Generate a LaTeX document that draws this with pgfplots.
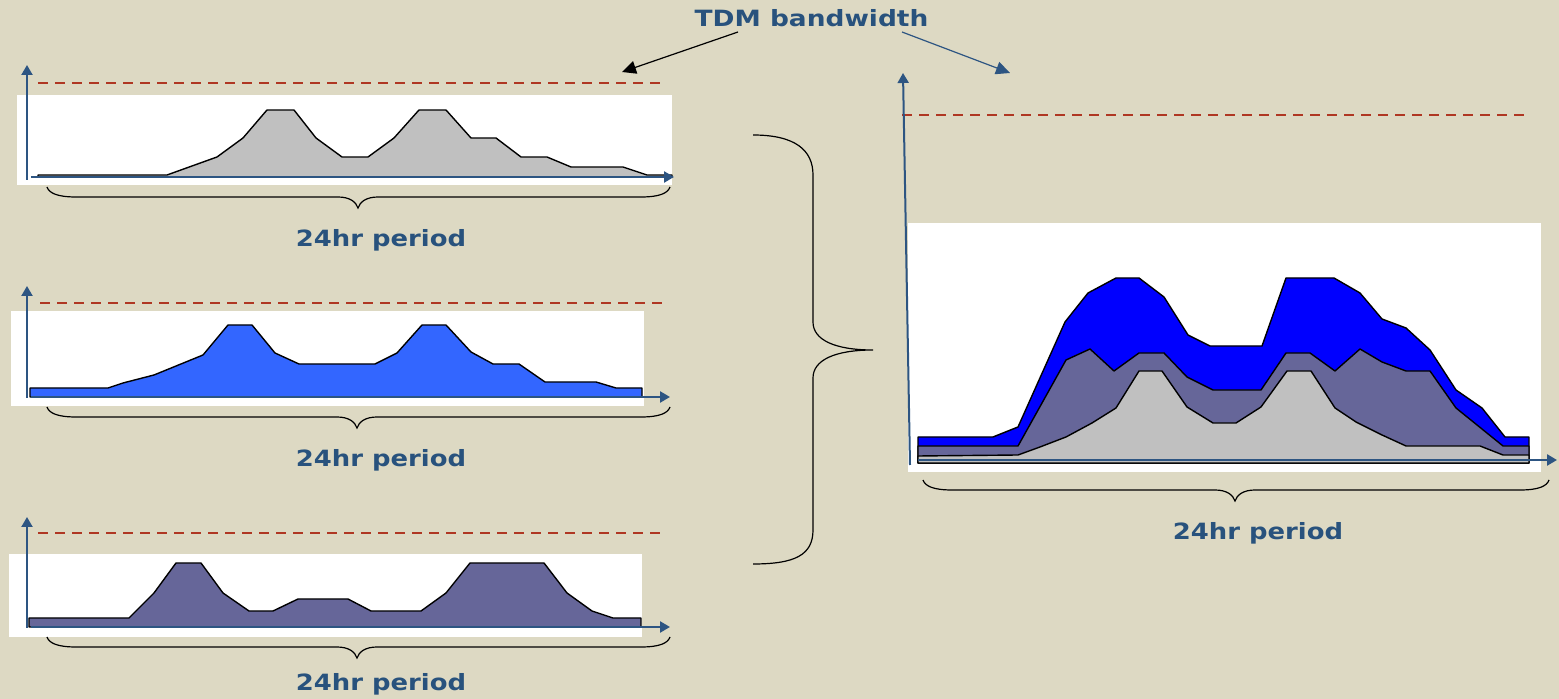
\documentclass[border=0pt]{standalone}
\usepackage{pgfplots}
\pgfplotsset{compat=1.18}
\usepackage{graphicx}
\usepackage{fontspec}
\setmainfont{DejaVu Sans}
\usetikzlibrary{arrows.meta}
\definecolor{bg}{RGB}{221,217,195}
\definecolor{txt}{RGB}{40,82,125}
\definecolor{axblue}{RGB}{45,85,130}
\definecolor{dashred}{RGB}{175,55,35}
\definecolor{greyA}{RGB}{192,192,192}
\definecolor{blueB}{RGB}{51,102,255}
\definecolor{purpleC}{RGB}{102,102,153}
\definecolor{blueD}{RGB}{0,0,255}
\pgfplotsset{mini/.style={scale only axis, hide axis, clip=false, anchor=south west}}
\tikzset{
 axarrow/.style={draw=axblue, line width=1.3pt, -{Triangle[length=5pt,width=5.5pt]}},
 bw/.style={draw=dashred, line width=0.9pt, dash pattern=on 5pt off 3.5pt},
 ar/.style={draw=black, line width=0.7pt, line join=round},
 lbl/.style={font=\fontsize{11.2pt}{13pt}\selectfont\bfseries, text=txt, anchor=base, inner sep=0pt},
}
\newcommand{\smallbrace}[4]{%
 \draw[black, line width=0.6pt] (#1,#3) .. controls ({#1+2},{#3+6}) and ({#1+10},{#3+10}) .. ({#1+29},{#3+10}) -- ({#4-20},{#3+10}) .. controls ({#4-8},{#3+10}) and ({#4-2},{#3+15}) .. (#4,{#3+21}) .. controls ({#4+2},{#3+15}) and ({#4+8},{#3+10}) .. ({#4+20},{#3+10}) -- ({#2-29},{#3+10}) .. controls ({#2-10},{#3+10}) and ({#2-2},{#3+6}) .. (#2,#3);}
\begin{document}
\begin{tikzpicture}
\begin{scope}[x=0.5pt,y=-0.5pt]
 \fill[bg] (0,0) rectangle (1559,699);
 \fill[white] (17,95) rectangle (672,185);
 \fill[white] (11,311) rectangle (644,406);
 \fill[white] (9,554) rectangle (642,637);
 \fill[white] (908,223) rectangle (1541,472);
 \coordinate (c1) at (17,185);
 \coordinate (c2) at (11,406);
 \coordinate (c3) at (9,637);
 \coordinate (c4) at (908,472);
\end{scope}

% chart 1
\begin{axis}[mini, at={(c1)}, xmin=17, xmax=672, ymin=-8, ymax=82, width=327.5pt, height=45pt]
 \addplot[ar, fill=greyA] coordinates {(38,0)(38,2)(167,2)(217,20)(243,39)(267,67)(294,67)(316,39)(342,20)(368,20)(394,39)(419,67)(446,67)(471,39)(496,39)(521,20)(547,20)(571,10)(623,10)(647,2)(672,2)(672,0)} -- cycle;
 \draw[bw] (axis cs:38,94) -- (axis cs:665,94);
 \draw[axarrow, line width=1pt] (axis cs:27,-3) -- (axis cs:27,112);
 \draw[axarrow] (axis cs:31,0) -- (axis cs:674,0);
\end{axis}

% chart 2
\begin{axis}[mini, at={(c2)}, xmin=11, xmax=644, ymin=-9, ymax=86, width=316.5pt, height=47.5pt]
 \addplot[ar, fill=blueB] coordinates {(30,0)(30,9)(108,9)(123,14)(154,22)(203,42)(228,72)(252,72)(275,44)(299,33)(375,33)(397,44)(422,72)(446,72)(471,45)(493,33)(519,33)(545,15)(596,15)(616,9)(642,9)(642,0)} -- cycle;
 \draw[bw] (axis cs:40,94) -- (axis cs:665,94);
 \draw[axarrow, line width=1pt] (axis cs:27,-1) -- (axis cs:27,111);
 \draw[axarrow] (axis cs:31,0) -- (axis cs:670,0);
\end{axis}

% chart 3
\begin{axis}[mini, at={(c3)}, xmin=9, xmax=642, ymin=-10, ymax=73, width=316.5pt, height=41.5pt]
 \addplot[ar, fill=purpleC] coordinates {(29,0)(29,9)(129,9)(154,34)(176,64)(201,64)(223,34)(249,16)(273,16)(298,28)(348,28)(371,16)(421,16)(446,34)(470,64)(544,64)(567,34)(592,16)(613,9)(641,9)(641,0)} -- cycle;
 \draw[bw] (axis cs:38,94) -- (axis cs:665,94);
 \draw[axarrow, line width=1pt] (axis cs:27,-1) -- (axis cs:27,110);
 \draw[axarrow] (axis cs:31,0) -- (axis cs:670,0);
\end{axis}

% combined chart
\begin{axis}[mini, at={(c4)}, xmin=908, xmax=1541, ymin=-9, ymax=240, width=316.5pt, height=124.5pt]
 \addplot[ar, fill=blueD] coordinates {(918,0)(918,26)(993,26)(1018,36)(1065,141)(1088,170)(1116,185)(1139,185)(1164,166)(1188,128)(1210,117)(1262,117)(1286,185)(1334,185)(1360,170)(1382,144)(1406,135)(1430,113)(1456,73)(1482,55)(1505,26)(1529,26)(1529,0)} -- cycle;
 \addplot[ar, fill=purpleC] coordinates {(918,0)(918,17)(1018,17)(1066,103)(1090,114)(1114,92)(1139,110)(1164,110)(1187,86)(1213,73)(1261,73)(1286,110)(1310,110)(1335,92)(1360,114)(1382,101)(1406,92)(1430,92)(1456,55)(1503,17)(1529,17)(1529,0)} -- cycle;
 \addplot[ar, fill=greyA] coordinates {(918,0)(918,7)(1018,8)(1040,16)(1066,26)(1092,40)(1116,55)(1139,92)(1162,92)(1187,56)(1213,40)(1236,40)(1261,56)(1287,92)(1311,92)(1335,55)(1356,41)(1382,28)(1406,17)(1480,17)(1503,8)(1529,8)(1529,0)} -- cycle;
 \draw[bw] (axis cs:902,348) -- (axis cs:1528,348);
 \draw[axarrow, line width=1pt] (axis cs:910,-2) -- (axis cs:903,390);
 \draw[axarrow] (axis cs:918,3) -- (axis cs:1557,3);
\end{axis}

\begin{scope}[x=0.5pt,y=-0.5pt]
 \smallbrace{47}{670}{187}{358}
 \smallbrace{47}{670}{407}{357}
 \smallbrace{47}{670}{637}{357}
 \smallbrace{923}{1549}{480}{1235}
 \draw[black, line width=0.6pt] (753,135) .. controls (795,135) and (813,150) .. (813,175) -- (813,322) .. controls (813,340) and (835,350) .. (873,350) .. controls (835,350) and (813,360) .. (813,378) -- (813,530) .. controls (813,555) and (795,564) .. (753,564);
 \node[lbl] at (381,247) {\scalebox{1.155}[1]{24hr period}};
 \node[lbl] at (381,467) {\scalebox{1.155}[1]{24hr period}};
 \node[lbl] at (381,691) {\scalebox{1.155}[1]{24hr period}};
 \node[lbl] at (1258,540) {\scalebox{1.155}[1]{24hr period}};
 \node[lbl] at (811.5,27) {\scalebox{1.18}[1]{TDM bandwidth}};
 \draw[black, line width=0.6pt, -{Triangle[length=7pt,width=6.5pt]}] (738,32) -- (622,72);
 \draw[axblue, line width=0.6pt, -{Triangle[length=7pt,width=6.5pt]}] (902,32) -- (1010,73);
 \pgfresetboundingbox
 \path[use as bounding box] (0,0) rectangle (1559,699);
\end{scope}
\end{tikzpicture}
\end{document}
